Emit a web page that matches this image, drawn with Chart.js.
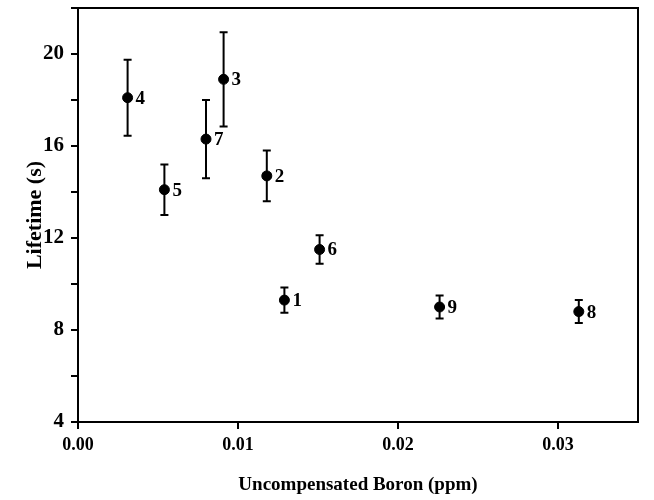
<!DOCTYPE html>
<html lang="en">
<head>
    <meta charset="UTF-8">
    <title>Lifetime vs Uncompensated Boron</title>
    <script src="https://cdn.jsdelivr.net/npm/chart.js"></script>
    <style>
        html, body { margin: 0; padding: 0; background: #fff; }
        #wrap { width: 654px; height: 500px; }
    </style>
</head>
<body>
<div id="wrap"><canvas id="lifetimeChart" width="654" height="500"></canvas></div>

<script>
    // values
    const sampleIds = ['1', '2', '3', '4', '5', '6', '7', '8', '9'];
    const boronPpm  = [0.0129, 0.0118, 0.0091, 0.0031, 0.0054, 0.0151, 0.0080, 0.0313, 0.0226];
    const lifetime  = [9.3, 14.7, 18.9, 18.1, 14.1, 11.5, 16.3, 8.8, 9.0];
    const lifetimeErr = [0.55, 1.1, 2.05, 1.65, 1.1, 0.62, 1.7, 0.5, 0.5];
    const xTickValues = [0, 0.01, 0.02, 0.03];
    const yTickLabels = [4, 8, 12, 16, 20];

    const serif = '"Liberation Serif", "DejaVu Serif", serif';

    // error bars, point numbers and the box around the plot
    const errorBarsPlugin = {
        id: 'errorBars',
        afterDatasetsDraw(chart) {
            const ctx = chart.ctx;
            const xs = chart.scales.x, ys = chart.scales.y;
            ctx.save();
            ctx.strokeStyle = '#000';
            ctx.fillStyle = '#000';
            ctx.lineWidth = 2;
            for (let i = 0; i < lifetime.length; i++) {
                const px = xs.getPixelForValue(boronPpm[i]);
                const top = ys.getPixelForValue(lifetime[i] + lifetimeErr[i]);
                const bot = ys.getPixelForValue(lifetime[i] - lifetimeErr[i]);
                ctx.beginPath();
                ctx.moveTo(px, top); ctx.lineTo(px, bot);
                ctx.moveTo(px - 4, top); ctx.lineTo(px + 4, top);
                ctx.moveTo(px - 4, bot); ctx.lineTo(px + 4, bot);
                ctx.stroke();

                ctx.font = 'bold 19px ' + serif;
                ctx.textBaseline = 'middle';
                ctx.textAlign = 'left';
                ctx.fillText(sampleIds[i], px + 8, ys.getPixelForValue(lifetime[i]) + 1);
            }
            const a = chart.chartArea;
            ctx.lineWidth = 2;
            ctx.strokeRect(a.left, a.top, a.right - a.left, a.bottom - a.top);
            ctx.restore();
        }
    };

    const ctx = document.getElementById('lifetimeChart').getContext('2d');

    new Chart(ctx, {
        type: 'scatter',
        data: {
            datasets: [{
                data: boronPpm.map((b, i) => ({ x: b, y: lifetime[i] })),
                backgroundColor: '#000',
                borderColor: '#000',
                pointRadius: 5,
                pointHoverRadius: 5
            }]
        },
        options: {
            responsive: false,
            animation: false,
            devicePixelRatio: 1,
            layout: { padding: { top: 8, right: 16, left: 0, bottom: 0 } },
            plugins: {
                legend: { display: false },
                tooltip: { enabled: false }
            },
            scales: {
                x: {
                    type: 'linear',
                    min: 0,
                    max: 0.035,
                    afterFit(scale) { scale.height = 78; },
                    afterBuildTicks(scale) { scale.ticks = xTickValues.map(v => ({ value: v })); },
                    grid: { drawOnChartArea: false, drawTicks: true, tickLength: 7, color: '#000', lineWidth: 2 },
                    border: { display: true, color: '#000', width: 2 },
                    ticks: {
                        color: '#000',
                        padding: 6,
                        font: { family: serif, size: 18, weight: 'bold' },
                        callback: v => v.toFixed(2)
                    },
                    title: {
                        display: true,
                        text: 'Uncompensated Boron (ppm)',
                        color: '#000',
                        padding: { top: 6 },
                        font: { family: serif, size: 19, weight: 'bold' }
                    }
                },
                y: {
                    min: 4,
                    max: 22,
                    afterFit(scale) {
                        scale.width = 78;
                        scale.paddingTop = 0;
                        scale.paddingBottom = 0;
                    },
                    grid: { drawOnChartArea: false, drawTicks: true, tickLength: 7, color: '#000', lineWidth: 2 },
                    border: { display: true, color: '#000', width: 2 },
                    ticks: {
                        stepSize: 2,
                        color: '#000',
                        padding: 7,
                        font: { family: serif, size: 21, weight: 'bold' },
                        callback: v => yTickLabels.includes(v) ? String(v) : ''
                    },
                    title: {
                        display: true,
                        text: 'Lifetime (s)',
                        color: '#000',
                        padding: { top: 22, bottom: 0 },
                        font: { family: serif, size: 22, weight: 'bold' }
                    }
                }
            }
        },
        plugins: [errorBarsPlugin]
    });
</script>
</body>
</html>
